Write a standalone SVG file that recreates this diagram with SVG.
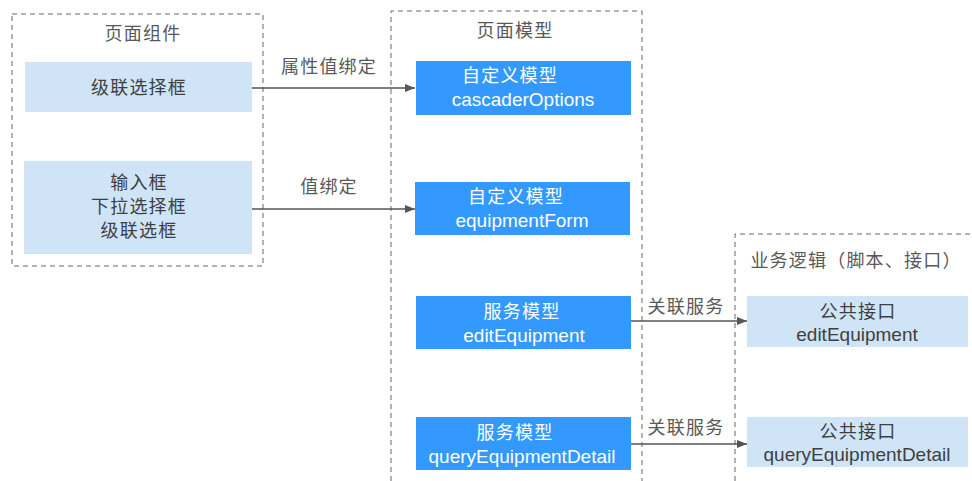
<svg xmlns="http://www.w3.org/2000/svg" width="972" height="481" viewBox="0 0 972 481">
<style>
.grp{fill:none;stroke:#666;stroke-width:1;stroke-dasharray:5,4}
.lt{fill:#cfe4f7}
.bl{fill:#3399ff}
.t{font-family:"Liberation Sans","Noto Sans CJK SC",sans-serif;text-anchor:middle}
.cj{font-size:18px;letter-spacing:1.2px}
.la{font-size:19px}
.gray{fill:#595959}
.dark{fill:#404040}
.wh{fill:#ffffff}
.edge{stroke:#555;stroke-width:1.5;fill:none;marker-end:url(#ah)}
</style>
<defs>
<marker id="ah" markerWidth="10" markerHeight="8" refX="10" refY="4" orient="auto" markerUnits="userSpaceOnUse">
<path d="M0,0 L10,4 L0,8 Z" fill="#555"/>
</marker>
</defs>
<rect width="972" height="481" fill="#fff"/>
<g id="group-page-components">
<rect class="grp" x="12" y="14" width="251" height="252"/>
<text class="t cj gray" x="143" y="40">页面组件</text>
</g>
<g id="group-page-model">
<path class="grp" d="M391,481 L391,11 L642,11 L642,481"/>
<text class="t cj gray" x="515" y="37">页面模型</text>
</g>
<g id="group-business">
<path class="grp" d="M735,481 L735,234 L972,234"/>
<text class="t cj gray" x="856" y="267">业务逻辑（脚本、接口）</text>
</g>
<g id="node-cascader">
<rect class="lt" x="25" y="62" width="227" height="50"/>
<text class="t cj dark" x="139" y="94">级联选择框</text>
</g>
<g id="node-inputs">
<rect class="lt" x="24" y="161" width="228" height="93"/>
<text class="t cj dark" x="139" y="189">输入框</text>
<text class="t cj dark" x="139" y="213">下拉选择框</text>
<text class="t cj dark" x="139" y="237">级联选框</text>
</g>
<g id="node-cascaderOptions">
<rect class="bl" x="416" y="61" width="215" height="54"/>
<text class="t cj wh" x="510" y="82">自定义模型</text>
<text class="t la wh" x="523" y="106">cascaderOptions</text>
</g>
<g id="node-equipmentForm">
<rect class="bl" x="415" y="182" width="215" height="53"/>
<text class="t cj wh" x="516" y="203">自定义模型</text>
<text class="t la wh" x="522" y="227">equipmentForm</text>
</g>
<g id="node-editEquipment">
<rect class="bl" x="416" y="296" width="215" height="53"/>
<text class="t cj wh" x="522" y="318">服务模型</text>
<text class="t la wh" x="524" y="342">editEquipment</text>
</g>
<g id="node-queryEquipmentDetail">
<rect class="bl" x="416" y="417" width="215" height="53"/>
<text class="t cj wh" x="515" y="439">服务模型</text>
<text class="t la wh" x="522" y="463">queryEquipmentDetail</text>
</g>
<g id="node-api-edit">
<rect class="lt" x="747" y="296" width="221" height="51"/>
<text class="t cj dark" x="858" y="318">公共接口</text>
<text class="t la dark" x="857" y="341">editEquipment</text>
</g>
<g id="node-api-query">
<rect class="lt" x="747" y="417" width="221" height="50"/>
<text class="t cj dark" x="858" y="438">公共接口</text>
<text class="t la dark" x="857" y="461">queryEquipmentDetail</text>
</g>
<g id="connectors">
<line class="edge" x1="252" y1="88" x2="415" y2="88"/>
<line class="edge" x1="252" y1="209" x2="415" y2="209"/>
<line class="edge" x1="631" y1="321" x2="747" y2="321"/>
<line class="edge" x1="631" y1="444" x2="747" y2="444"/>
<text class="t cj gray" x="329" y="73">属性值绑定</text>
<text class="t cj gray" x="329" y="193">值绑定</text>
<text class="t cj gray" x="686" y="313">关联服务</text>
<text class="t cj gray" x="686" y="434">关联服务</text>
</g>
</svg>
